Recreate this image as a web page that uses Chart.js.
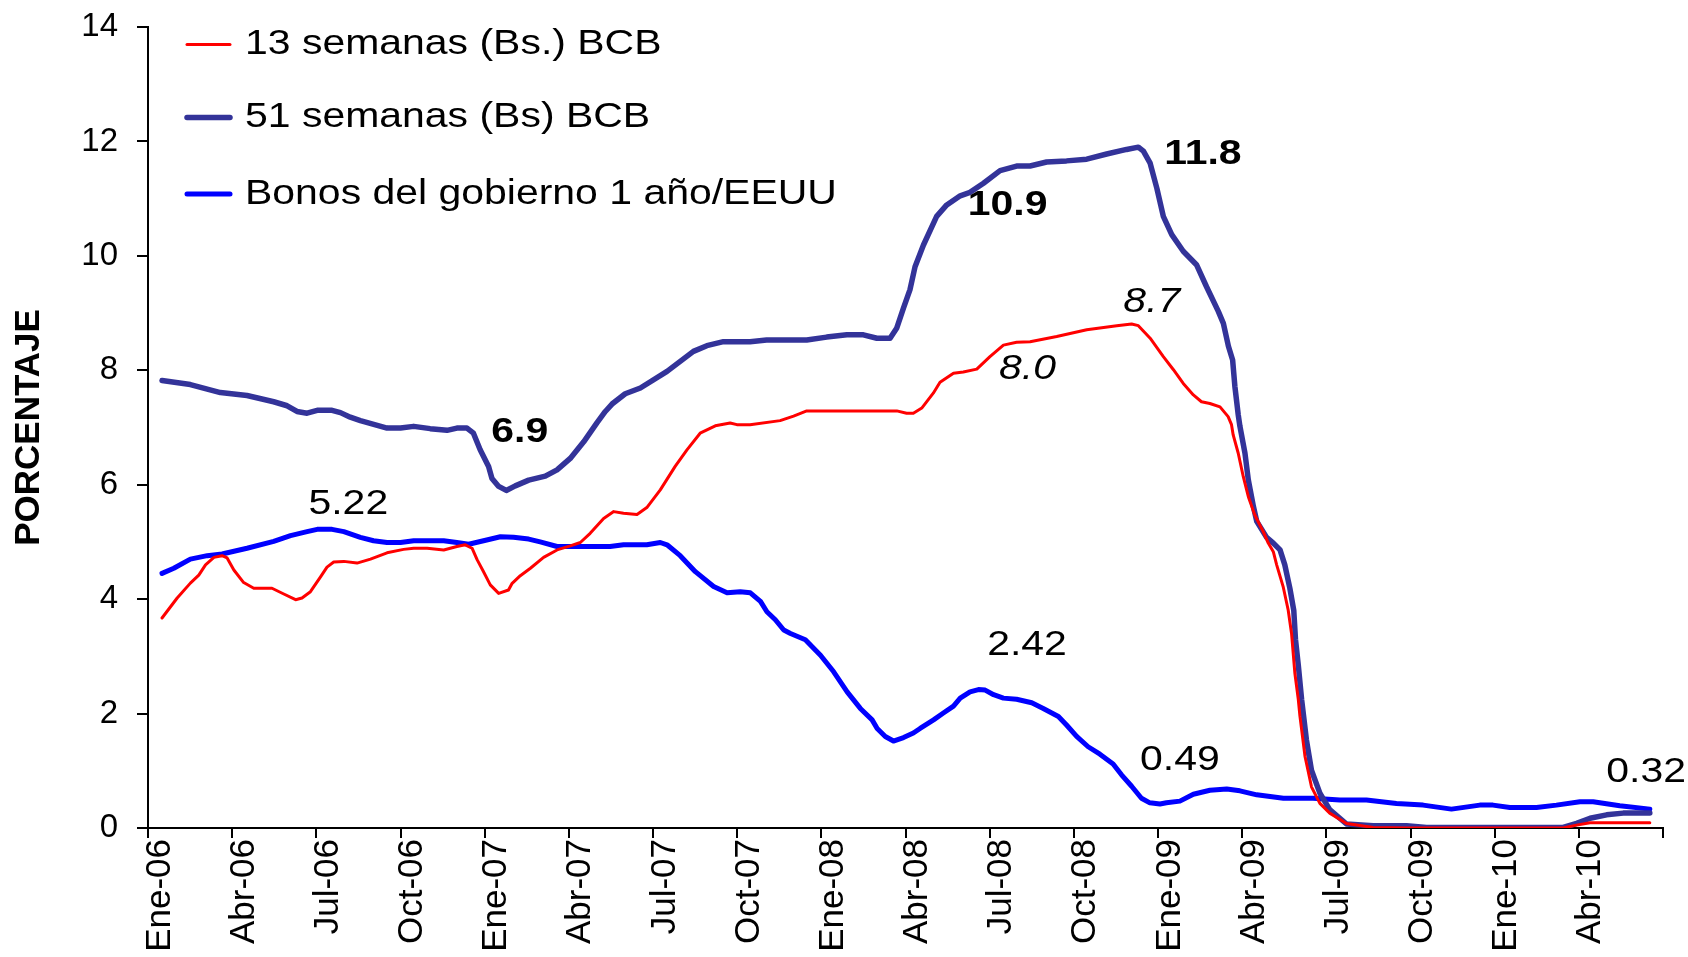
<!DOCTYPE html>
<html>
<head>
<meta charset="utf-8">
<script src="https://cdn.jsdelivr.net/npm/chart.js@4.4.1/dist/chart.umd.min.js"></script>
<style>
  html, body { margin: 0; padding: 0; background: #fff; }
  #wrap { width: 1688px; height: 957px; }
</style>
</head>
<body>
<div id="wrap"><canvas id="chart" width="1688" height="957"></canvas></div>
<script>
// x values are months counted from Ene-06
const tickLabels = ['Ene-06', 'Abr-06', 'Jul-06', 'Oct-06', 'Ene-07', 'Abr-07', 'Jul-07', 'Oct-07',
    'Ene-08', 'Abr-08', 'Jul-08', 'Oct-08', 'Ene-09', 'Abr-09', 'Jul-09', 'Oct-09', 'Ene-10', 'Abr-10'];

const seriesNames = ['13 semanas (Bs.) BCB', '51 semanas (Bs) BCB', 'Bonos del gobierno 1 año/EEUU'];

// 13 semanas (Bs.) BCB
const monthsBs13 = [0.5, 1.04, 1.51, 1.81, 2.05, 2.35, 2.64, 2.82, 3.06, 3.41, 3.77, 4.42, 4.84, 5.26, 5.49,
    5.79, 6.15, 6.38, 6.62, 6.98, 7.45, 7.93, 8.52, 9.11, 9.47, 9.95, 10.54, 11.01, 11.31, 11.55, 11.73,
    11.96, 12.2, 12.5, 12.85, 12.97, 13.27, 13.63, 14.1, 14.58, 15.05, 15.41, 15.76, 16.24, 16.6, 16.95,
    17.43, 17.78, 18.26, 18.79, 19.21, 19.68, 20.22, 20.75, 20.99, 21.46, 22.53, 23.01, 23.48, 26.69,
    27.04, 27.28, 27.58, 27.99, 28.23, 28.71, 29.06, 29.54, 30.01, 30.49, 30.96, 31.44, 32.39, 33.46,
    34.53, 35.06, 35.3, 35.72, 36.19, 36.55, 36.9, 37.26, 37.55, 37.85, 38.21, 38.5, 38.62, 38.68, 38.86,
    39.04, 39.22, 39.45, 39.75, 39.93, 40.11, 40.23, 40.46, 40.64, 40.76, 40.88, 41.0, 41.06, 41.24,
    41.47, 41.77, 42.12, 42.72, 43.67, 44.86, 50.44, 50.92, 51.4, 53.53];
const ratesBs13 = [3.67, 4.02, 4.28, 4.42, 4.60, 4.73, 4.76, 4.72, 4.51, 4.29, 4.19, 4.19, 4.09, 3.99, 4.02,
    4.13, 4.39, 4.56, 4.65, 4.66, 4.63, 4.70, 4.81, 4.87, 4.89, 4.89, 4.86, 4.92, 4.95, 4.89, 4.69,
    4.48, 4.25, 4.10, 4.16, 4.27, 4.41, 4.54, 4.73, 4.86, 4.93, 4.99, 5.15, 5.41, 5.53, 5.50,
    5.48, 5.60, 5.91, 6.32, 6.61, 6.90, 7.03, 7.08, 7.05, 7.05, 7.12, 7.20, 7.29, 7.29,
    7.25, 7.25, 7.34, 7.60, 7.79, 7.95, 7.97, 8.02, 8.24, 8.44, 8.49, 8.50, 8.59, 8.71,
    8.78, 8.81, 8.78, 8.56, 8.24, 8.01, 7.77, 7.57, 7.45, 7.42, 7.36, 7.19, 7.05, 6.87, 6.55,
    6.14, 5.79, 5.47, 5.18, 4.98, 4.83, 4.60, 4.22, 3.81, 3.40, 2.70, 2.25, 1.95, 1.25,
    0.72, 0.43, 0.26, 0.08, 0.01, 0.0, 0.0, 0.05, 0.09, 0.09];

// 51 semanas (Bs) BCB
const monthsBs51 = [0.5, 1.51, 2.58, 3.53, 4.48, 4.96, 5.31, 5.67, 6.03, 6.56, 6.86, 7.21, 7.57, 8.52, 9.0,
    9.47, 10.06, 10.66, 11.01, 11.37, 11.6, 11.84, 12.14, 12.26, 12.5, 12.77, 13.09, 13.57, 14.16, 14.58,
    15.05, 15.53, 16.0, 16.3, 16.54, 17.01, 17.55, 18.5, 19.44, 19.92, 20.51, 21.46, 22.05, 23.48, 24.19,
    24.91, 25.5, 25.98, 26.45, 26.69, 26.93, 27.16, 27.34, 27.64, 28.11, 28.47, 28.95, 29.3, 29.78,
    30.37, 30.96, 31.44, 32.03, 32.74, 33.46, 34.17, 34.88, 35.3, 35.48, 35.72, 35.96, 36.19, 36.49,
    36.9, 37.38, 37.73, 38.15, 38.33, 38.51, 38.66, 38.74, 38.86, 38.92, 39.1, 39.22, 39.4, 39.52,
    39.87, 40.11, 40.35, 40.52, 40.7, 40.84, 40.9, 41.0, 41.12, 41.29, 41.47, 41.77, 42.12, 42.72,
    43.67, 44.86, 45.57, 50.44, 50.92, 51.4, 51.99, 52.58, 53.53];
const ratesBs51 = [7.82, 7.75, 7.61, 7.56, 7.45, 7.38, 7.28, 7.25, 7.30, 7.30, 7.26, 7.18, 7.12, 6.99, 6.99,
    7.02, 6.98, 6.95, 6.99, 6.99, 6.90, 6.61, 6.32, 6.11, 5.97, 5.90, 5.98, 6.08, 6.15, 6.26,
    6.46, 6.75, 7.08, 7.28, 7.41, 7.59, 7.69, 7.98, 8.33, 8.43, 8.50, 8.50, 8.53, 8.53, 8.58,
    8.62, 8.62, 8.56, 8.56, 8.74, 9.09, 9.41, 9.81, 10.19, 10.69, 10.89, 11.05, 11.11, 11.27,
    11.49, 11.57, 11.57, 11.64, 11.66, 11.69, 11.78, 11.86, 11.90, 11.83, 11.62, 11.18, 10.69, 10.37,
    10.08, 9.84, 9.46, 9.03, 8.82, 8.42, 8.18, 7.72, 7.22, 7.02, 6.55, 6.08, 5.62, 5.36,
    5.08, 4.98, 4.86, 4.60, 4.19, 3.80, 3.30, 2.85, 2.24, 1.54, 1.01, 0.61, 0.32, 0.07,
    0.04, 0.04, 0.01, 0.01, 0.08, 0.17, 0.23, 0.26, 0.26];

// Bonos del gobierno 1 año/EEUU
const monthsUs = [0.5, 0.92, 1.51, 2.11, 2.64, 3.53, 4.48, 5.08, 5.67, 6.03, 6.56, 6.98, 7.57, 8.04, 8.52,
    9.0, 9.47, 10.06, 10.54, 11.01, 11.43, 11.96, 12.56, 13.03, 13.57, 13.98, 14.58, 15.17, 16.47, 16.95,
    17.78, 18.26, 18.5, 18.97, 19.51, 20.16, 20.64, 21.11, 21.47, 21.83, 22.06, 22.36, 22.66, 22.9,
    23.43, 23.97, 24.44, 24.92, 25.39, 25.81, 25.99, 26.28, 26.57, 26.93, 27.28, 27.52, 28.0, 28.35,
    28.71, 28.95, 29.3, 29.6, 29.84, 30.14, 30.49, 30.96, 31.5, 31.91, 32.45, 32.74, 33.1, 33.51,
    33.93, 34.4, 34.7, 35.06, 35.41, 35.71, 36.07, 36.3, 36.78, 37.26, 37.85, 38.45, 38.92, 39.52,
    40.47, 41.53, 42.48, 43.43, 44.5, 45.45, 46.46, 47.47, 47.94, 48.54, 49.49, 50.2, 51.04, 51.51,
    52.46, 53.53];
const ratesUs = [4.45, 4.54, 4.70, 4.76, 4.79, 4.89, 5.01, 5.11, 5.18, 5.22, 5.22, 5.18, 5.08, 5.02, 4.99,
    4.99, 5.02, 5.02, 5.02, 4.99, 4.96, 5.02, 5.09, 5.08, 5.05, 5.00, 4.92, 4.92, 4.92, 4.95,
    4.95, 4.99, 4.95, 4.76, 4.48, 4.22, 4.11, 4.13, 4.11, 3.96, 3.78, 3.64, 3.46, 3.40,
    3.29, 3.02, 2.73, 2.38, 2.09, 1.89, 1.74, 1.60, 1.52, 1.58, 1.66, 1.74, 1.89, 2.01,
    2.13, 2.27, 2.38, 2.42, 2.41, 2.33, 2.27, 2.25, 2.19, 2.09, 1.95, 1.80, 1.60, 1.42,
    1.29, 1.12, 0.93, 0.73, 0.52, 0.44, 0.42, 0.44, 0.47, 0.59, 0.66, 0.68, 0.65, 0.58,
    0.52, 0.52, 0.49, 0.49, 0.43, 0.40, 0.33, 0.40, 0.40, 0.36, 0.36, 0.40, 0.46, 0.46,
    0.39, 0.33];

// value labels written on the chart
const noteTexts = ['5.22', '6.9', '10.9', '11.8', '8.7', '8.0', '2.42', '0.49', '0.32'];
const noteMonths = [7.14, 13.25, 30.64, 37.6, 35.78, 31.35, 31.33, 36.78, 53.4];
const noteValues = [5.65, 6.92, 10.88, 11.77, 9.19, 8.02, 3.2, 1.18, 0.97];
const noteStyles = ['normal', 'bold', 'bold', 'bold', 'italic', 'italic', 'normal', 'normal', 'normal'];

const FONT = '"Liberation Sans", Arial, sans-serif';

function toPoints(xs, ys) {
    return xs.map((x, i) => ({ x: x, y: ys[i] }));
}

// stretched text, the original picture is a bit wide
function wideText(ctx, text, x, y, font, align) {
    ctx.save();
    ctx.font = font;
    ctx.fillStyle = '#000';
    ctx.textAlign = align;
    ctx.textBaseline = 'middle';
    ctx.translate(x, y);
    ctx.scale(1.17, 1);
    ctx.fillText(text, 0, 0);
    ctx.restore();
}

const extras = {
    id: 'extras',
    afterDraw(chart) {
        const ctx = chart.ctx;
        const xs = chart.scales.x;
        const ys = chart.scales.y;

        noteTexts.forEach((t, i) => {
            const style = noteStyles[i];
            let font = '35px ' + FONT;
            if (style === 'bold') font = 'bold 35px ' + FONT;
            if (style === 'italic') font = 'italic 35px ' + FONT;
            wideText(ctx, t, xs.getPixelForValue(noteMonths[i]), ys.getPixelForValue(noteValues[i]), font, 'center');
        });

        // legend, inside the plot at top left
        const rows = [44.5, 117.5, 194];
        chart.data.datasets.forEach((ds, i) => {
            ctx.save();
            ctx.strokeStyle = ds.borderColor;
            ctx.lineWidth = ds.borderWidth;
            ctx.lineCap = 'round';
            ctx.beginPath();
            ctx.moveTo(187, rows[i]);
            ctx.lineTo(230, rows[i]);
            ctx.stroke();
            ctx.restore();
            wideText(ctx, ds.label, 245, rows[i], '35px ' + FONT, 'left');
        });
    }
};

new Chart(document.getElementById('chart'), {
    type: 'line',
    data: {
        datasets: [{
            label: seriesNames[0],
            data: toPoints(monthsBs13, ratesBs13),
            borderColor: '#FF0000',
            borderWidth: 3
        }, {
            label: seriesNames[1],
            data: toPoints(monthsBs51, ratesBs51),
            borderColor: '#333399',
            borderWidth: 5.5
        }, {
            label: seriesNames[2],
            data: toPoints(monthsUs, ratesUs),
            borderColor: '#0000FF',
            borderWidth: 5
        }]
    },
    options: {
        responsive: false,
        animation: false,
        devicePixelRatio: 1,
        layout: {
            padding: { top: 27, right: 25, left: 0, bottom: 0 }
        },
        elements: {
            point: { radius: 0 },
            line: { tension: 0, borderJoinStyle: 'round', borderCapStyle: 'round' }
        },
        scales: {
            x: {
                type: 'linear',
                min: 0,
                max: 54,
                afterFit: (scale) => {
                    scale.height = 129;
                    scale.paddingLeft = 0;
                    scale.paddingRight = 0;
                },
                afterBuildTicks: (scale) => {
                    scale.ticks = [];
                    for (let v = 0; v <= 54; v += 3) scale.ticks.push({ value: v });
                },
                grid: {
                    drawOnChartArea: false,
                    color: '#000',
                    lineWidth: 2,
                    tickLength: 10
                },
                border: { color: '#000', width: 2 },
                ticks: {
                    autoSkip: false,
                    maxRotation: 90,
                    minRotation: 90,
                    padding: 1,
                    labelOffset: 12,
                    color: '#000',
                    font: { family: FONT, size: 35 },
                    callback: (v) => tickLabels[Math.round(v / 3)] || ''
                }
            },
            y: {
                min: 0,
                max: 14,
                afterFit: (scale) => {
                    scale.width = 148;
                    scale.paddingTop = 0;
                    scale.paddingBottom = 0;
                },
                grid: {
                    drawOnChartArea: false,
                    color: '#000',
                    lineWidth: 2,
                    tickLength: 11
                },
                border: { color: '#000', width: 2 },
                ticks: {
                    stepSize: 2,
                    padding: 19,
                    color: '#000',
                    font: { family: FONT, size: 33 }
                },
                title: {
                    display: true,
                    text: 'PORCENTAJE',
                    color: '#000',
                    padding: { top: 8, bottom: 0 },
                    font: { family: FONT, size: 35, weight: 'bold' }
                }
            }
        },
        plugins: {
            legend: { display: false },
            tooltip: { enabled: false }
        }
    },
    plugins: [extras]
});
</script>
</body>
</html>
